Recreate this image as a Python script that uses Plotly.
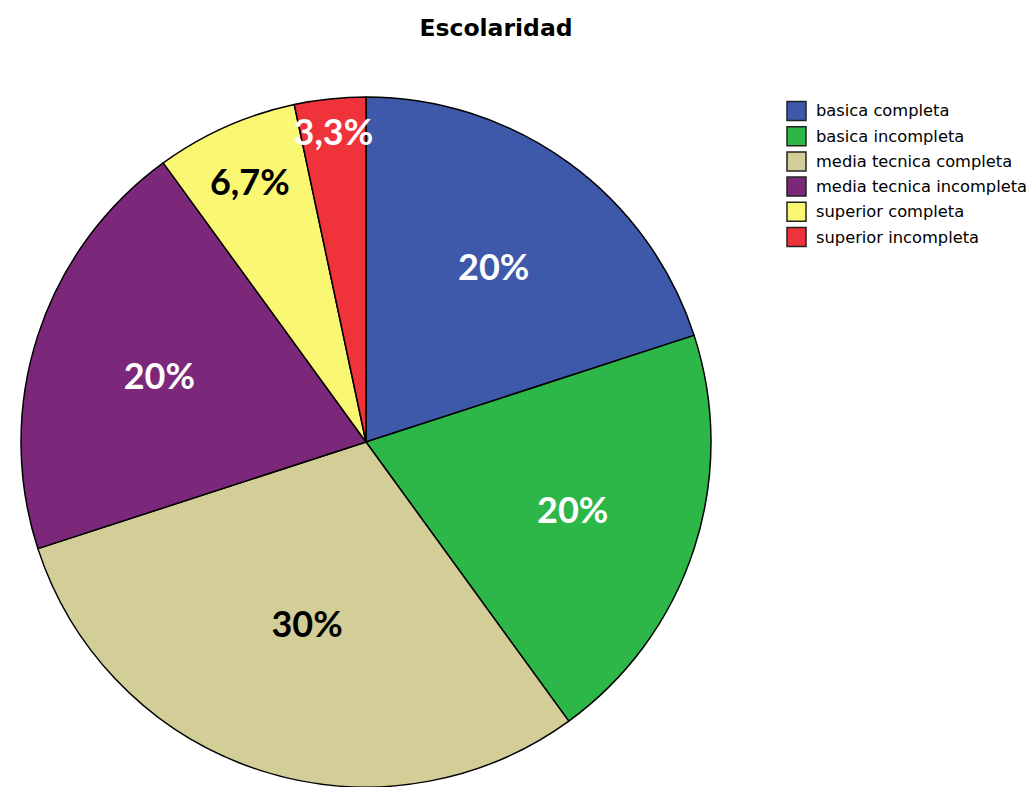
import plotly.graph_objects as go

# Escolaridad: case counts per category (n = 30)
categorias = [
    "basica completa",
    "basica incompleta",
    "media tecnica completa",
    "media tecnica incompleta",
    "superior completa",
    "superior incompleta",
]
casos = [6, 6, 9, 6, 2, 1]
colores = ["#3E58AA", "#2EB749", "#D3CE97", "#7C287A", "#FAF773", "#F0323A"]
color_texto = ["white", "white", "black", "white", "black", "white"]

W, H = 1033, 787
cx, cy, r = 366, 442, 345  # pie centre and radius in pixels

fig = go.Figure(
    go.Pie(
        labels=categorias,
        values=casos,
        sort=False,
        direction="clockwise",
        rotation=0,
        marker=dict(colors=colores, line=dict(color="black", width=1.5)),
        texttemplate="%{percent:.1~%}",
        textposition="inside",
        insidetextorientation="horizontal",
        insidetextfont=dict(family="Lato", size=36, color=color_texto, weight="bold"),
        domain=dict(x=[(cx - r) / W, (cx + r) / W], y=[(H - cy - r) / H, (H - cy + r) / H]),
        showlegend=False,
        hoverinfo="label+percent",
    )
)

# Legend drawn as swatches + labels, one row per category
shapes, annotations = [], []
x_box0, x_box1, x_text = 787, 806, 814
y_first, y_step, half = 111, 25.2, 9.5
for i, (cat, col) in enumerate(zip(categorias, colores)):
    yc = y_first + i * y_step
    shapes.append(
        dict(
            type="rect", xref="paper", yref="paper",
            x0=x_box0 / W, x1=x_box1 / W,
            y0=1 - (yc + half) / H, y1=1 - (yc - half) / H,
            fillcolor=col, line=dict(color="#222222", width=1.5),
        )
    )
    annotations.append(
        dict(
            text=cat, xref="paper", yref="paper",
            x=x_text / W, y=1 - yc / H, xanchor="left", yanchor="middle",
            showarrow=False, font=dict(family="DejaVu Sans", size=16.3, color="black"),
        )
    )

fig.update_layout(
    width=W,
    height=H,
    margin=dict(l=0, r=0, t=0, b=0),
    paper_bgcolor="white",
    plot_bgcolor="white",
    separators=",.",
    uniformtext=dict(mode="show", minsize=36),
    title=dict(
        text="<b>Escolaridad</b>",
        xref="container", yref="container",
        x=496 / W, y=1 - 28 / H, xanchor="center", yanchor="middle",
        font=dict(family="DejaVu Sans", size=23.5, color="black"),
    ),
    shapes=shapes,
    annotations=annotations,
)

fig.write_html("out.html")
